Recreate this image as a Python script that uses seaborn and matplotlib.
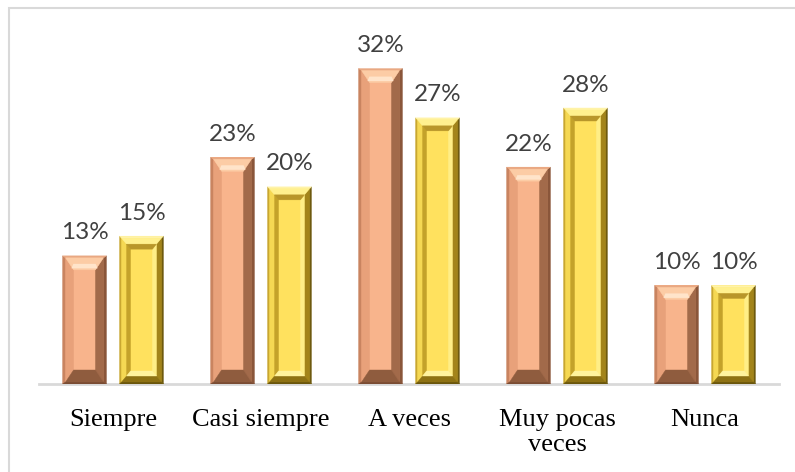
import numpy as np
import pandas as pd
import matplotlib
matplotlib.use("Agg")
import matplotlib.pyplot as plt
from matplotlib.patches import Polygon, Rectangle
import seaborn as sns

# Response frequencies (percent) for the two groups
categorias = ["Siempre", "Casi siempre", "A veces", "Muy pocas\nveces", "Nunca"]
serie_1 = [13, 23, 32, 22, 10]
serie_2 = [15, 20, 27, 28, 10]
series = ["Serie 1", "Serie 2"]

df = pd.DataFrame({
    "categoria": categorias * 2,
    "serie": [series[0]] * len(categorias) + [series[1]] * len(categorias),
    "valor": serie_1 + serie_2,
})

sns.set_theme(style="white")
plt.rcParams["font.family"] = ["Liberation Serif", "DejaVu Serif"]

W, H = 795, 472
fig = plt.figure(figsize=(W / 100, H / 100), dpi=100)
ax = fig.add_axes([39 / W, (H - 384) / H, (779 - 39) / W, (384 - 39) / H])

caras = ["#F8B48C", "#FFE15E"]
sns.barplot(data=df, x="categoria", y="valor", hue="serie", hue_order=series,
            order=categorias, palette=caras, width=0.77, gap=0.23,
            saturation=1, legend=False, ax=ax, linewidth=0, zorder=2)

ax.set_ylim(0, 35)
ax.set_xlim(-0.5, len(categorias) - 0.5)
ax.set_xlabel("")
ax.set_ylabel("")
ax.set_yticks([])
for s in ["left", "right", "top"]:
    ax.spines[s].set_visible(False)
ax.spines["bottom"].set_color("#D9D9D9")
ax.spines["bottom"].set_linewidth(2)
ax.spines["bottom"].set_zorder(1)
ax.tick_params(axis="x", length=0, pad=18, labelsize=19, colors="#000000")
for lbl in ax.get_xticklabels():
    lbl.set_linespacing(1.2)

# pixel -> data conversion for bevel sizes
bb = ax.get_window_extent()
px_x = (ax.get_xlim()[1] - ax.get_xlim()[0]) / bb.width
px_y = (ax.get_ylim()[1] - ax.get_ylim()[0]) / bb.height


def frame(x0, y0, x1, y1, bx, by, cols, z):
    ix, iy = bx * px_x, by * px_y
    top = [(x0, y1), (x1, y1), (x1 - ix, y1 - iy), (x0 + ix, y1 - iy)]
    bot = [(x0, y0), (x1, y0), (x1 - ix, y0 + iy), (x0 + ix, y0 + iy)]
    lef = [(x0, y0), (x0, y1), (x0 + ix, y1 - iy), (x0 + ix, y0 + iy)]
    rig = [(x1, y0), (x1, y1), (x1 - ix, y1 - iy), (x1 - ix, y0 + iy)]
    for pts, c in zip([lef, rig, top, bot], cols):
        ax.add_patch(Polygon(pts, closed=True, facecolor=c, edgecolor=c,
                             linewidth=0.3, zorder=z))
    return x0 + ix, y0 + iy, x1 - ix, y1 - iy


for k, cont in enumerate(ax.containers):
    for p in cont.patches:
        x0, y0 = p.get_x(), p.get_y()
        x1, y1 = x0 + p.get_width(), y0 + p.get_height()
        if k == 0:
            # outer dark edge, then pyramid bevel with a lit top face
            a = frame(x0, y0, x1, y1, 3, 2, ["#C98460", "#8A563A", "#E9A882", "#7A4C33"], 3)
            b = frame(*a, 8, 12, ["#E8A17A", "#A26A4A", "#FCCCA5", "#8F5C3E"], 3)
            cx = (b[0] + b[2]) / 2
            hw = (b[2] - b[0]) * 0.6
            ax.add_patch(Polygon([(cx - hw, b[3] + 1.5 * px_y), (cx + hw, b[3] + 1.5 * px_y),
                                  (cx + hw * 0.85, b[3] + 6 * px_y), (cx - hw * 0.85, b[3] + 6 * px_y)],
                                 closed=True, facecolor="#FFE4CA", edgecolor="none", zorder=4))
        else:
            a = frame(x0, y0, x1, y1, 2, 2, ["#C9A730", "#6E5A0E", "#FFF3A8", "#6A560C"], 3)
            b = frame(*a, 5, 6, ["#F5D853", "#A3841A", "#FFF08E", "#8E7214"], 3)
            frame(*b, 4, 5, ["#C4A22A", "#FFEE86", "#B8962A", "#FFF39E"], 3)

# value labels
for cont, vals in zip(ax.containers, [serie_1, serie_2]):
    ax.bar_label(cont, labels=[f"{v}%" for v in vals], padding=9,
                 fontsize=17.5, color="#404040", family=["Lato", "DejaVu Sans"])

# outer chart border
fig.add_artist(Rectangle((9 / W, -0.05), 1.0, 1 - 8 / H + 0.05, transform=fig.transFigure,
                         fill=False, edgecolor="#D9D9D9", linewidth=1.5))

fig.savefig("out.png", dpi=100)
